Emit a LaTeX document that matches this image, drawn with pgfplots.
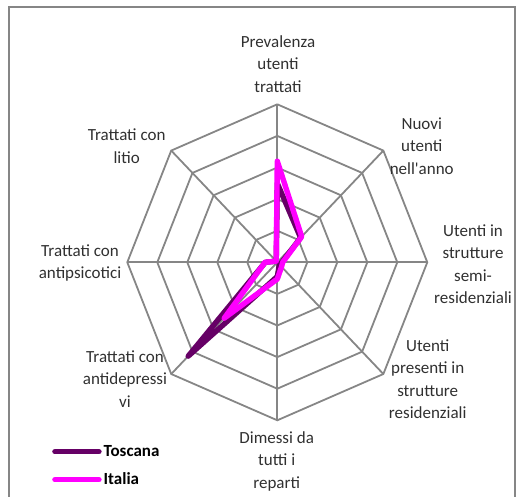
\documentclass[border=0pt]{standalone}
\usepackage{pgfplots}
\pgfplotsset{compat=1.18}
\usepackage{fontspec}
\setmainfont{Carlito}

\definecolor{toscana}{HTML}{660066}
\definecolor{italia}{HTML}{FF00FF}
\definecolor{gridgray}{HTML}{868686}
\definecolor{labtext}{HTML}{303030}

% radar grid: 5 rings, 8 spokes (angle, radius)
\pgfplotsset{
  ring/.style={gridgray, line width=1.8pt, no marks, data cs=polar, forget plot},
  serie/.style={line width=5.4pt, no marks, data cs=polar, line join=round, line cap=round},
}
\tikzset{lab/.style={font=\fontsize{17}{22.5}\selectfont, text=labtext, align=center, anchor=center, inner sep=0pt}}

\begin{document}
\begin{tikzpicture}
\path[use as bounding box] (0,0) rectangle (531pt,497pt);
\clip (0,0) rectangle (531pt,497pt);
\begin{axis}[
    width=531pt, height=497pt, scale only axis,
    xmin=-9.243, xmax=8.457,
    ymin=-7.427, ymax=8.301,
    axis lines=none, ticks=none, clip=false,
    legend style={at={(rel axis cs:0.098,0.108)}, anchor=north west,
        draw=none, fill=none, inner sep=0pt, row sep=11pt,
        font=\fontsize{17}{18}\selectfont\bfseries,
        cells={anchor=west}},
    legend image code/.code={\draw[#1, line width=5.4pt, line cap=round] (0pt,0pt) -- (44pt,0pt);},
  ]
  % frame of the chart area
  \draw[gridgray, line width=1.4pt] (rel axis cs:0.017,-0.05) rectangle (rel axis cs:0.970,0.986);

  \pgfplotsinvokeforeach{1,2,3,4,5}{
    \addplot[ring] coordinates {(90,#1) (45,#1) (0,#1) (-45,#1) (-90,#1) (-135,#1) (180,#1) (135,#1) (90,#1)};
  }
  \pgfplotsinvokeforeach{90,45,0,-45,-90,-135,180,135}{
    \addplot[ring] coordinates {(#1,0) (#1,5)};
  }

  % Toscana
  \addplot[serie, toscana] coordinates {
    (90,2.5) (45,1.1) (0,0.15) (-45,0.1) (-90,0.45) (-135,4.2) (180,0.4) (135,0.05) (90,2.5)
  };
  % Italia
  \addplot[serie, italia] coordinates {
    (90,3.2) (45,1.15) (0,0.18) (-45,0.2) (-90,0.53) (-135,2.5) (180,0.41) (135,0.05) (90,3.2)
  };
  \legend{Toscana, Italia}

  \node[lab] at (rel axis cs:0.5235,0.8716) {Prevalenza\\utenti\\trattati};
  \node[lab] at (rel axis cs:0.7942,0.7062) {Nuovi\\utenti\\nell\textquotesingle anno};
  \node[lab] at (rel axis cs:0.8908,0.4688) {Utenti in\\strutture\\semi-\\residenziali};
  \node[lab] at (rel axis cs:0.8055,0.2374) {Utenti\\presenti in\\strutture\\residenziali};
  \node[lab] at (rel axis cs:0.5211,0.0724) {Dimessi da\\tutti i\\reparti};
  \node[lab] at (rel axis cs:0.2354,0.2374) {Trattati con\\antidepressi\\vi};
  \node[lab] at (rel axis cs:0.1507,0.4708) {Trattati con\\antipsicotici};
  \node[lab] at (rel axis cs:0.2386,0.7056) {Trattati con\\litio};
\end{axis}
\end{tikzpicture}
\end{document}
